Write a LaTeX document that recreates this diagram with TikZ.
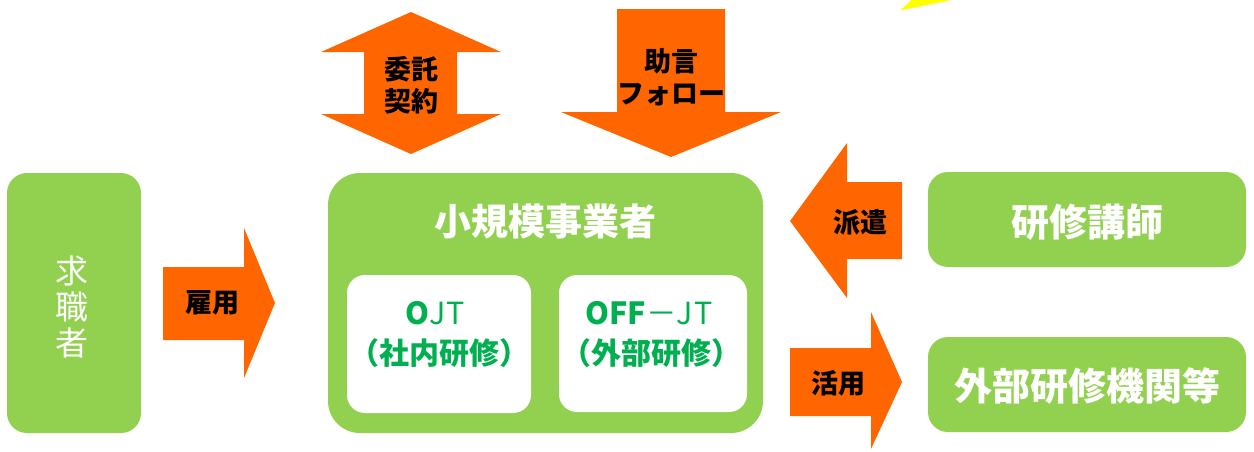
\documentclass[tikz,border=0pt]{standalone}
\usepackage{fontspec}
\setmainfont{Noto Sans CJK JP}
\definecolor{boxgreen}{HTML}{92D050}
\definecolor{arrorange}{HTML}{FF6600}
\definecolor{txtgreen}{HTML}{00B050}
\definecolor{yel}{HTML}{FFFF00}
\tikzset{
  gbox/.style={fill=boxgreen, draw=none, rounded corners=#1},
  wbox/.style={fill=white, draw=none, rounded corners=18pt},
  arr/.style={fill=arrorange, draw=none},
  lbl/.style={font=\fontsize{27}{32}\selectfont\bfseries, text=black, align=center, inner sep=0pt},
  wlbl/.style={font=\fontsize{38}{40}\selectfont\bfseries, text=white, align=center, inner sep=0pt},
  glbla/.style={font=\fontsize{30.5}{32}\selectfont, text=txtgreen, align=center, inner sep=0pt},
  glblb/.style={font=\fontsize{30}{32}\selectfont\bfseries, text=txtgreen, align=center, inner sep=0pt},
}
\begin{document}
\begin{tikzpicture}[x=1pt,y=-1pt]
\useasboundingbox (0,0) rectangle (1254,451);
% yellow fragment
\fill[yel] (900,10.5) -- (911.5,0) -- (952,0) -- cycle;
% boxes
\fill[gbox=20pt] (7,173) rectangle (141,433);
\node[font=\fontsize{33}{36}\selectfont, text=white, align=center, inner sep=0pt] (kyu) at (72,307) {求\\職\\者};
\fill[gbox=32pt] (328,173) rectangle (763,433);
\node[font=\fontsize{37}{40}\selectfont\bfseries, text=white, inner sep=0pt] (jig) at (545,221) {小規模事業者};
\fill[wbox] (347,275) rectangle (531,413);
\fill[wbox] (559,275) rectangle (747,412);
\node[glbla] (ojt) at (435,313) {{\bfseries O}J\kern1pt T};
\node[glblb] (ojtsub) at (439,353) {（社内研修）};
\node[glbla] (offjt) at (649,313) {{\bfseries OFF}－J\kern1pt T};
\node[glblb] (offjtsub) at (651,353) {（外部研修）};
\fill[gbox=20pt] (928,172) rectangle (1246,267);
\node[wlbl] (koshi) at (1087,222) {研修講師};
\fill[gbox=20pt] (928,337) rectangle (1246,432);
\node[wlbl] (kikan) at (1087,386) {外部研修機関等};
% arrows
\fill[arr] (163,267) -- (244,267) -- (244,228) -- (275,303) -- (244,378) -- (244,340) -- (163,340) -- cycle;
\node[lbl] (koyo) at (212,303) {雇用};
\fill[arr] (411,12) -- (501,52) -- (457,52) -- (457,114) -- (501,114) -- (411,154) -- (321,114) -- (364,114) -- (364,52) -- (321,52) -- cycle;
\node[lbl] (itaku) at (411,85) {委託\\契約};
\fill[arr] (617,9) -- (725,9) -- (725,112) -- (781,112) -- (671,157) -- (561,112) -- (617,112) -- cycle;
\node[lbl] (jogen) at (671,77) {助言\\フォロー};
\fill[arr] (790,221) -- (847,143) -- (847,182) -- (902,182) -- (902,259) -- (847,259) -- (847,298) -- cycle;
\node[lbl] (haken) at (860,222) {派遣};
\fill[arr] (790,348) -- (871,348) -- (871,312) -- (902,382) -- (871,449) -- (871,416) -- (790,416) -- cycle;
\node[lbl] (katsu) at (838,383) {活用};
\end{tikzpicture}
\end{document}
